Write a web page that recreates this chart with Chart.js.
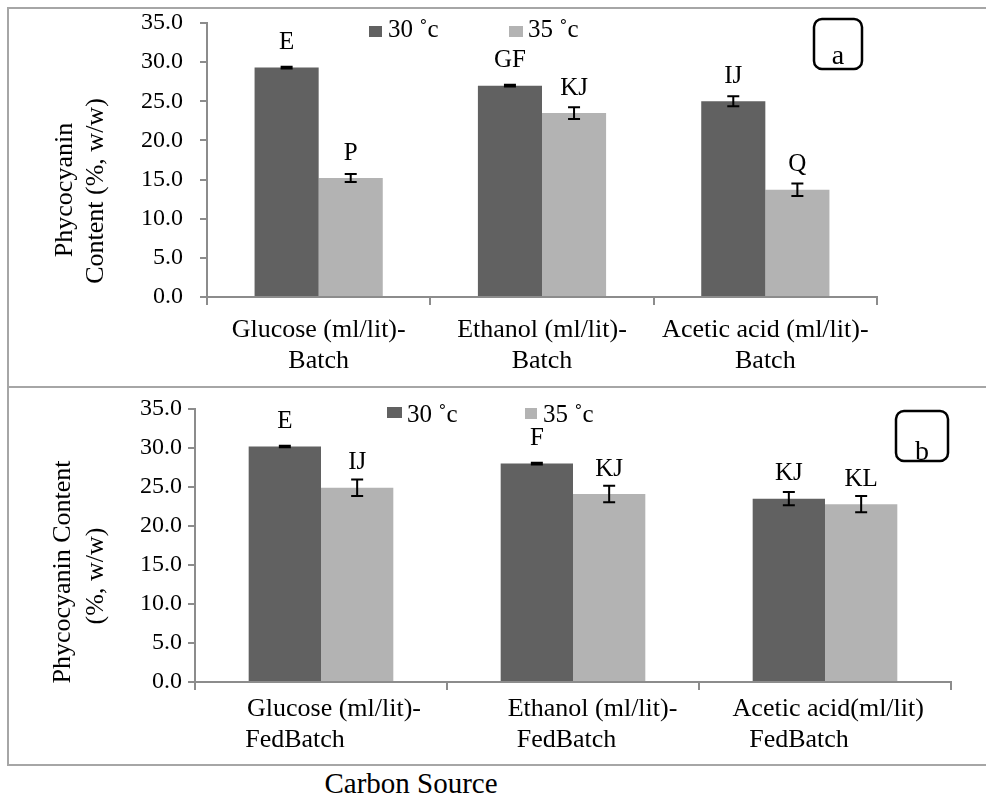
<!DOCTYPE html>
<html>
<head>
<meta charset="utf-8">
<script src="https://cdn.jsdelivr.net/npm/chart.js@4.4.0/dist/chart.umd.min.js"></script>
<style>
body { margin: 0; background: #fff; width: 986px; height: 798px; overflow: hidden; position: relative; font-family: 'Liberation Serif', serif; }
.frame { position: absolute; left: 7px; width: 990px; border: 2px solid #a6a6a6; border-right: none; box-sizing: border-box; }
#f1 { top: 7px; height: 381px; }
#f2 { top: 386px; height: 380px; }
canvas { position: absolute; left: 0; }
#c1 { top: 0; }
#c2 { top: 386px; }
#xtitle { position: absolute; top: 769px; left: 311px; width: 200px; text-align: center; font-size: 29px; line-height: 29px; }
</style>
</head>
<body>
<div class="frame" id="f1"></div>
<div class="frame" id="f2"></div>
<canvas id="c1" width="986" height="386"></canvas>
<canvas id="c2" width="986" height="380"></canvas>
<div id="xtitle">Carbon Source</div>
<script>
// panel a - batch
const batchLabels = [['Glucose (ml/lit)-', 'Batch'], ['Ethanol (ml/lit)-', 'Batch'], ['Acetic acid (ml/lit)-', 'Batch']];
const batch30 = [29.3, 27.0, 25.0];
const batch35 = [15.2, 23.5, 13.7];
const batch30Err = [0.1, 0.1, 0.65];
const batch35Err = [0.5, 0.75, 0.8];
const batch30Letters = ['E', 'GF', 'IJ'];
const batch35Letters = ['P', 'KJ', 'Q'];

// panel b - fed batch
const fedLabels = [['    Glucose (ml/lit)-', 'FedBatch        '], ['      Ethanol (ml/lit)-', 'FedBatch  '], [' Acetic acid(ml/lit)', 'FedBatch        ']];
const fed30 = [30.2, 28.0, 23.5];
const fed35 = [24.9, 24.1, 22.8];
const fed30Err = [0.1, 0.1, 0.85];
const fed35Err = [1.05, 1.05, 1.05];
const fed30Letters = ['E', 'F', 'KJ'];
const fed35Letters = ['IJ', 'KJ', 'KL'];

const yTicks = { min: 0, max: 35, step: 5 };
const seriesNames = ['30 \u02DAc', '35 \u02DAc'];
const dark = '#616161';
const light = '#b3b3b3';
const axisGrey = '#8c8c8c';

Chart.defaults.font.family = "'Liberation Serif', serif";
Chart.defaults.color = '#000';

const extras = {
    id: 'extras',
    afterDatasetsDraw(chart, args, o) {
        const ctx = chart.ctx;
        const y = chart.scales.y;
        ctx.save();
        chart.data.datasets.forEach((ds, di) => {
            chart.getDatasetMeta(di).data.forEach((bar, i) => {
                const v = ds.data[i], e = ds.errors[i];
                const y1 = y.getPixelForValue(v + e), y2 = y.getPixelForValue(v - e);
                ctx.strokeStyle = '#000';
                ctx.lineWidth = 2;
                ctx.beginPath();
                ctx.moveTo(bar.x, y1); ctx.lineTo(bar.x, y2);
                ctx.moveTo(bar.x - 6, y1); ctx.lineTo(bar.x + 6, y1);
                ctx.moveTo(bar.x - 6, y2); ctx.lineTo(bar.x + 6, y2);
                ctx.stroke();
                ctx.fillStyle = '#000';
                ctx.font = "25px 'Liberation Serif'";
                ctx.textAlign = 'center';
                ctx.textBaseline = 'middle';
                ctx.fillText(ds.letters[i], bar.x, bar.y - 25);
            });
        });
        ctx.restore();
    },
    afterDraw(chart, args, o) {
        const ctx = chart.ctx;
        ctx.save();
        // y axis title
        ctx.fillStyle = '#000';
        ctx.font = "26px 'Liberation Serif'";
        ctx.textAlign = 'center';
        ctx.textBaseline = 'middle';
        o.title.forEach((t, i) => {
            ctx.save();
            ctx.translate(o.titleX[i], o.titleY[i]);
            ctx.rotate(-Math.PI / 2);
            ctx.fillText(t, 0, 0);
            ctx.restore();
        });
        // legend
        ctx.font = "25px 'Liberation Serif'";
        ctx.textAlign = 'left';
        ctx.textBaseline = 'alphabetic';
        chart.data.datasets.forEach((ds, i) => {
            const b = o.legend[i];
            ctx.fillStyle = ds.backgroundColor;
            ctx.fillRect(b[0], b[1], b[2], b[3]);
            ctx.fillStyle = '#000';
            ctx.fillText(ds.label, b[4], b[5]);
        });
        // panel tag
        const t = o.tag;
        ctx.strokeStyle = '#000';
        ctx.lineWidth = 2.5;
        ctx.beginPath();
        ctx.roundRect(t.x, t.y, t.w, t.h, 8);
        ctx.stroke();
        ctx.font = "28px 'Liberation Serif'";
        ctx.textAlign = 'center';
        ctx.fillText(t.text, t.tx, t.ty);
        ctx.restore();
    }
};

function makeChart(id, labels, v30, v35, e30, e35, l30, l35, lay) {
    return new Chart(document.getElementById(id), {
        type: 'bar',
        data: {
            labels: labels,
            datasets: [
                { label: seriesNames[0], data: v30, errors: e30, letters: l30, backgroundColor: dark },
                { label: seriesNames[1], data: v35, errors: e35, letters: l35, backgroundColor: light }
            ]
        },
        options: {
            responsive: false,
            animation: false,
            categoryPercentage: 0.574,
            barPercentage: 1.0,
            layout: { padding: { top: lay.top, right: lay.right, left: 0, bottom: 0 } },
            scales: {
                x: {
                    grid: { drawOnChartArea: false, tickLength: 8, color: axisGrey, lineWidth: 2 },
                    border: { color: axisGrey, width: 2 },
                    ticks: { font: { size: 26, lineHeight: 1.18 }, maxRotation: 0, minRotation: 0, autoSkip: false, padding: lay.xPad },
                    afterFit: (s) => { s.height = lay.xHeight; s.paddingLeft = 0; s.paddingRight = 0; }
                },
                y: {
                    min: yTicks.min,
                    max: yTicks.max,
                    grid: { drawOnChartArea: false, tickLength: 7, color: axisGrey, lineWidth: 2 },
                    border: { color: axisGrey, width: 2 },
                    ticks: { stepSize: yTicks.step, font: { size: 24 }, padding: lay.yPad, callback: (v) => v.toFixed(1) },
                    afterFit: (s) => { s.width = lay.yWidth; s.paddingTop = 0; s.paddingBottom = 0; }
                }
            },
            plugins: {
                legend: { display: false },
                tooltip: { enabled: false },
                extras: lay.extras
            }
        },
        plugins: [extras]
    });
}

makeChart('c1', batchLabels, batch30, batch35, batch30Err, batch35Err, batch30Letters, batch35Letters, {
    top: 23, right: 109, yWidth: 207, xHeight: 89, xPad: 10, yPad: 17,
    extras: {
        title: ['Phycocyanin', 'Content (%, w/w)'], titleX: [65, 96], titleY: [190, 191],
        legend: [[369, 26, 13, 11, 388, 37], [509, 26, 14, 11, 528, 37]],
        tag: { x: 814, y: 19, w: 48, h: 50, text: 'a', tx: 838, ty: 64 }
    }
});

makeChart('c2', fedLabels, fed30, fed35, fed30Err, fed35Err, fed30Letters, fed35Letters, {
    top: 23, right: 35, yWidth: 195, xHeight: 84, xPad: 4, yPad: 6,
    extras: {
        title: ['Phycocyanin Content', '(%, w/w)'], titleX: [63, 96], titleY: [186, 190],
        legend: [[387, 21, 15, 11, 407, 36], [525, 22, 12, 11, 543, 36]],
        tag: { x: 896, y: 25, w: 52, h: 50, text: 'b', tx: 922, ty: 74 }
    }
});
</script>
</body>
</html>
